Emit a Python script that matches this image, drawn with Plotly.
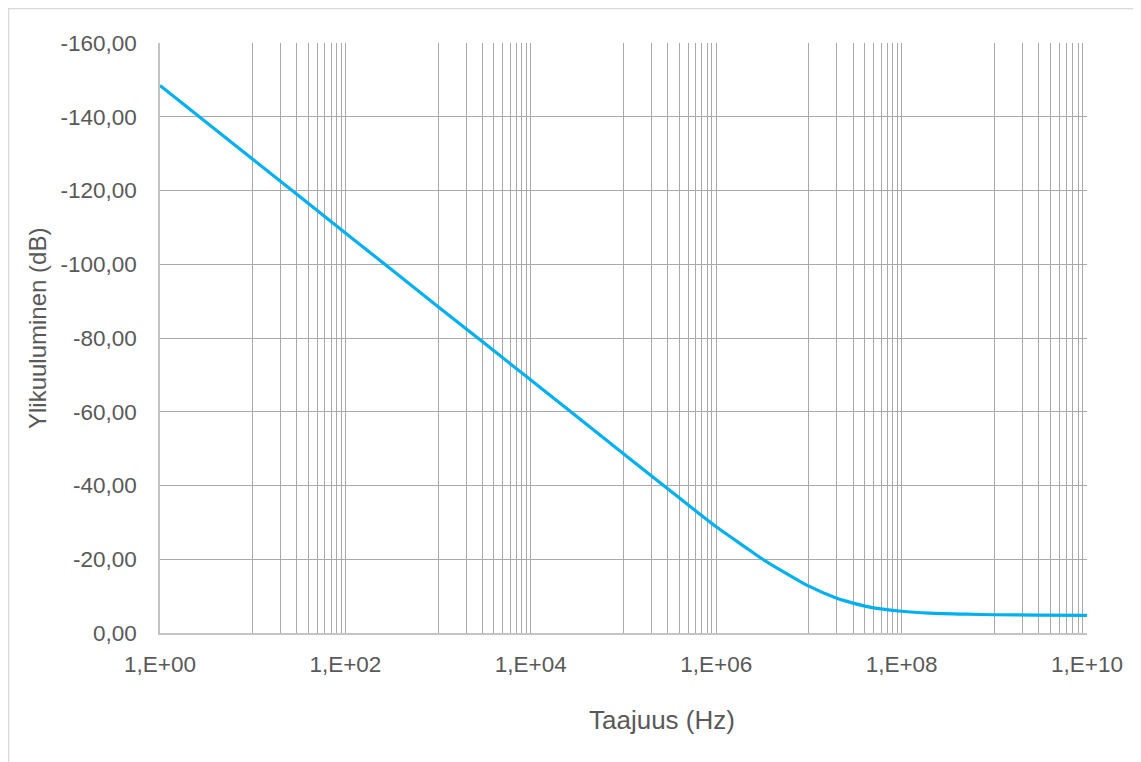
import plotly.graph_objects as go

# Data
freq_hz = [1, 10, 100, 1e3, 1e4, 1e5, 3e5, 1e6, 2e6, 3e6, 5e6, 1e7, 2e7, 3e7, 5e7,
           1e8, 2e8, 5e8, 1e9, 3e9, 1e10]
crosstalk_db = [-148.5, -128.5, -108.5, -88.5, -68.6, -48.6, -39.1, -28.8, -23.5, -20.4,
                -17.0, -12.7, -9.4, -8.1, -6.8, -5.9, -5.4, -5.1, -4.95, -4.85, -4.8]

x_tickvals = [1, 1e2, 1e4, 1e6, 1e8, 1e10]
x_ticktext = ["1,E+00", "1,E+02", "1,E+04", "1,E+06", "1,E+08", "1,E+10"]
x_minor_vals = [k * 10 ** (2 * n + 1) for n in range(5) for k in range(1, 10)]

y_tickvals = [0, -20, -40, -60, -80, -100, -120, -140, -160]
y_ticktext = ["0,00", "-20,00", "-40,00", "-60,00", "-80,00", "-100,00",
              "-120,00", "-140,00", "-160,00"]

x_title = "Taajuus (Hz)"
y_title = "Ylikuuluminen (dB)"

# page is offset by the 8px default body margin
OFF = 8
W, H = 1141 - OFF, 762 - OFF
ML, MT = 152, 35
PW, PH = 927, 590
MR = W - ML - PW
MB = H - MT - PH

def px_x(page_x):
    return (page_x - OFF - ML) / PW

def px_y(page_y):
    return (MT + PH - (page_y - OFF)) / PH

grid = "#a9a9a9"
font_col = "#595959"
FONT = "Liberation Sans, Arial, sans-serif"

fig = go.Figure()
fig.add_trace(go.Scatter(
    x=freq_hz, y=crosstalk_db, mode="lines",
    line=dict(color="#00B0F0", width=3.2, shape="spline", smoothing=0.6),
    showlegend=False, hoverinfo="x+y",
))

fig.update_layout(
    width=W, height=H,
    margin=dict(l=ML, r=MR, t=MT, b=MB, pad=0),
    paper_bgcolor="white", plot_bgcolor="white",
    font=dict(family=FONT, size=22, color=font_col),
    xaxis=dict(
        type="log", range=[0, 10],
        tickmode="array", tickvals=x_tickvals, ticktext=x_ticktext,
        showgrid=True, gridcolor=grid, gridwidth=1,
        minor=dict(tickmode="array", tickvals=x_minor_vals, showgrid=True,
                   gridcolor=grid, gridwidth=1, ticks=""),
        showline=True, linecolor="#c4c4c4", linewidth=1.5,
        ticks="", ticklabelstandoff=10, zeroline=False,
        tickfont=dict(size=22.5, color=font_col),
    ),
    yaxis=dict(
        range=[0, -160],
        tickmode="array", tickvals=y_tickvals, ticktext=y_ticktext,
        showgrid=True, gridcolor=grid, gridwidth=1,
        showline=True, linecolor="#c4c4c4", linewidth=1.5,
        ticks="", ticklabelstandoff=17, zeroline=False,
        tickfont=dict(size=22.5, color=font_col),
    ),
    annotations=[
        dict(text=x_title, xref="paper", yref="paper", x=px_x(662), y=px_y(720),
             xanchor="center", yanchor="middle", showarrow=False,
             font=dict(size=26, color=font_col, family=FONT)),
        dict(text=y_title, xref="paper", yref="paper", x=px_x(37), y=px_y(329),
             xanchor="center", yanchor="middle", showarrow=False, textangle=-90,
             font=dict(size=24, color=font_col, family=FONT)),
    ],
    shapes=[
        dict(type="line", xref="paper", yref="paper",
             x0=px_x(8), x1=px_x(1141 + 20), y0=px_y(8.5), y1=px_y(8.5),
             line=dict(color="#d9d9d9", width=1.5)),
        dict(type="line", xref="paper", yref="paper",
             x0=px_x(8.5), x1=px_x(8.5), y0=px_y(8), y1=px_y(762 + 20),
             line=dict(color="#d9d9d9", width=1.5)),
    ],
)

fig.write_html("out.html")
